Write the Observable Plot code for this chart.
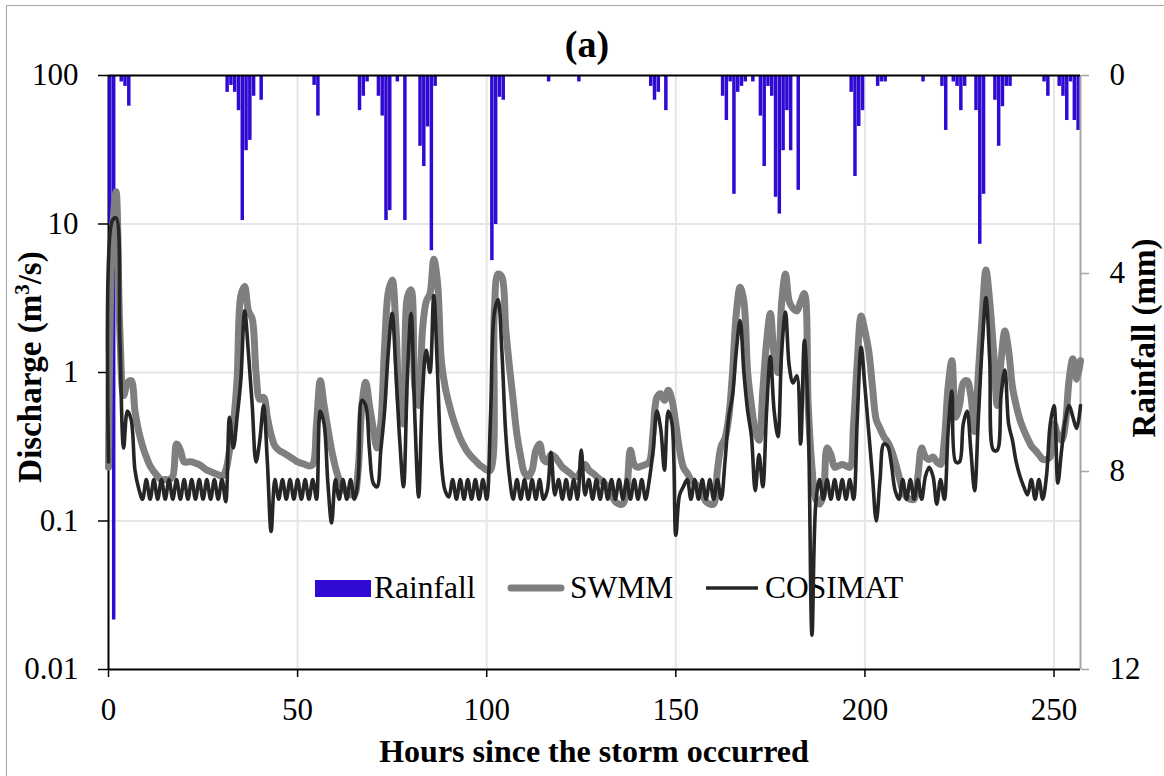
<!DOCTYPE html>
<html>
<head>
<meta charset="utf-8">
<script src="https://cdn.jsdelivr.net/npm/d3@7"></script>
<script src="https://cdn.jsdelivr.net/npm/@observablehq/plot@0.6"></script>
<style>
  html, body { margin: 0; padding: 0; background: #fff; }
  #wrap { position: relative; width: 1164px; height: 776px; overflow: hidden; background: #fff; }
  .layer { position: absolute; left: 0; top: 0; }
  #frame { position: absolute; left: 6px; top: 5px; width: 1170px; height: 800px; border-left: 1.5px solid #a6a6a6; border-top: 1.5px solid #a6a6a6; }
  svg text { font-family: "Liberation Serif", "Times New Roman", serif; }
</style>
</head>
<body>
<div id="wrap">
  <div id="frame"></div>
  <div id="gridLayer" class="layer"></div>
  <div id="rainLayer" class="layer"></div>
  <svg id="legend" class="layer" width="1164" height="776">
    <rect x="315" y="580" width="56" height="17" fill="#300ad2"></rect>
    <text x="374" y="598" font-size="31.5" fill="#000">Rainfall</text>
    <line x1="511" x2="561" y1="588" y2="588" stroke="#7f7f7f" stroke-width="7" stroke-linecap="round"></line>
    <text x="570" y="598" font-size="31.5" fill="#000">SWMM</text>
    <line x1="706" x2="758" y1="588" y2="588" stroke="#262626" stroke-width="3.6"></line>
    <text x="765" y="598" font-size="31.5" fill="#000">COSIMAT</text>
  </svg>
  <div id="lineLayer" class="layer"></div>
  <svg id="labels" class="layer" width="1164" height="776">
    <text x="587" y="57" text-anchor="middle" font-size="38" font-weight="bold">(a)</text>
    <text transform="translate(41,367) rotate(-90)" text-anchor="middle" font-size="33" font-weight="bold">Discharge (m<tspan dy="-12" font-size="21">3</tspan><tspan dy="12">/s)</tspan></text>
    <text transform="translate(1155,338) rotate(-90)" text-anchor="middle" font-size="33" font-weight="bold">Rainfall (mm)</text>
    <text x="594" y="762" text-anchor="middle" font-size="32" font-weight="bold">Hours since the storm occurred</text>
  </svg>
</div>
<script>
// ---------------- data ----------------
const hours = d3.range(0, 258);

const swmm = [
  0.23, 8, 16.5, 1.9, 0.7, 0.85, 0.88, 0.55, 0.4, 0.32,
  0.27, 0.235, 0.215, 0.2, 0.19, 0.19, 0.19, 0.2, 0.33, 0.3,
  0.25, 0.25, 0.25, 0.245, 0.24, 0.23, 0.22, 0.215, 0.21, 0.205,
  0.2, 0.22, 0.3, 0.45, 0.9, 3.3, 3.8, 2.6, 2.3, 1.0,
  0.66, 0.68, 0.5, 0.38, 0.32, 0.3, 0.29, 0.28, 0.27, 0.26,
  0.25, 0.245, 0.24, 0.235, 0.24, 0.45, 0.88, 0.6, 0.42, 0.3,
  0.23, 0.19, 0.17, 0.155, 0.15, 0.15, 0.22, 0.6, 0.86, 0.6,
  0.42, 0.31, 0.45, 1.5, 3.5, 4.2, 2.0, 0.6, 0.45, 3.2,
  3.6, 0.8, 0.6, 1.9, 3.0, 3.4, 5.8, 4.0, 1.2, 0.8,
  0.62, 0.5, 0.42, 0.36, 0.32, 0.29, 0.27, 0.255, 0.24, 0.23,
  0.22, 0.22, 2.5, 4.6, 4.4, 2.0, 1.1, 0.65, 0.38, 0.27,
  0.21, 0.2, 0.22, 0.3, 0.33, 0.26, 0.25, 0.28, 0.27, 0.25,
  0.23, 0.22, 0.21, 0.2, 0.2, 0.22, 0.24, 0.22, 0.21, 0.2,
  0.19, 0.18, 0.17, 0.15, 0.135, 0.13, 0.13, 0.16, 0.3, 0.24,
  0.23, 0.235, 0.24, 0.25, 0.4, 0.68, 0.72, 0.65, 0.76, 0.65,
  0.45, 0.3, 0.23, 0.21, 0.19, 0.18, 0.165, 0.15, 0.135, 0.13,
  0.13, 0.22, 0.32, 0.36, 0.5, 1.0, 2.5, 3.75, 3.0, 1.0,
  0.6, 0.41, 0.35, 0.75, 1.6, 2.5, 1.3, 1.0, 3.0, 4.6,
  3.0, 2.7, 2.6, 3.0, 3.4, 0.6, 0.23, 0.14, 0.13, 0.15,
  0.31, 0.28, 0.23, 0.235, 0.24, 0.235, 0.23, 0.45, 1.2, 2.4,
  1.9, 1.4, 0.8, 0.48, 0.42, 0.37, 0.34, 0.3, 0.25, 0.2,
  0.16, 0.145, 0.14, 0.14, 0.2, 0.31, 0.27, 0.26, 0.27, 0.25,
  0.24, 0.35, 0.8, 1.2, 0.5, 0.6, 0.85, 0.88, 0.7, 0.4,
  1.0, 2.4, 4.9, 3.0, 1.41, 0.6, 1.2, 1.9, 1.4, 0.8,
  0.6, 0.48, 0.41, 0.36, 0.32, 0.3, 0.28, 0.26, 0.26, 0.27,
  0.45, 0.38, 0.35, 0.45, 0.9, 1.24, 0.9, 1.2
];

const cosimat = [
  0.25, 10.5, 11, 1.7, 0.31, 0.55, 0.48, 0.22, 0.165, 0.14,
  0.19, 0.14, 0.19, 0.14, 0.19, 0.14, 0.19, 0.14, 0.19, 0.14,
  0.19, 0.14, 0.19, 0.14, 0.19, 0.14, 0.19, 0.14, 0.19, 0.14,
  0.19, 0.135, 0.5, 0.31, 0.5, 0.9, 2.6, 1.35, 0.6, 0.25,
  0.35, 0.6, 0.25, 0.085, 0.19, 0.14, 0.19, 0.14, 0.19, 0.14,
  0.19, 0.14, 0.19, 0.14, 0.19, 0.14, 0.55, 0.45, 0.18, 0.097,
  0.19, 0.14, 0.19, 0.14, 0.19, 0.14, 0.19, 0.65, 0.6, 0.3,
  0.18, 0.17, 0.3, 0.55, 1.4, 2.5, 1.0, 0.35, 0.17, 0.9,
  2.5, 0.5, 0.145, 0.7, 1.41, 1.0, 3.3, 1.0, 0.25, 0.16,
  0.145, 0.19, 0.14, 0.19, 0.14, 0.19, 0.14, 0.19, 0.14, 0.19,
  0.14, 0.5, 2.5, 3.1, 1.4, 0.4, 0.2, 0.14, 0.19, 0.14,
  0.19, 0.14, 0.19, 0.14, 0.19, 0.14, 0.16, 0.29, 0.15, 0.19,
  0.14, 0.19, 0.14, 0.19, 0.14, 0.3, 0.15, 0.19, 0.14, 0.19,
  0.14, 0.19, 0.14, 0.19, 0.14, 0.19, 0.14, 0.19, 0.14, 0.19,
  0.14, 0.19, 0.14, 0.19, 0.3, 0.55, 0.42, 0.22, 0.55, 0.45,
  0.08, 0.15, 0.17, 0.19, 0.14, 0.19, 0.14, 0.19, 0.14, 0.19,
  0.14, 0.19, 0.14, 0.25, 0.5, 0.7, 1.4, 2.24, 1.0, 0.55,
  0.37, 0.16, 0.28, 0.17, 0.55, 1.28, 0.55, 0.37, 1.4, 2.55,
  1.1, 0.85, 0.95, 0.33, 1.65, 0.5, 0.017, 0.13, 0.19, 0.14,
  0.19, 0.14, 0.19, 0.14, 0.19, 0.14, 0.19, 0.14, 0.5, 1.48,
  0.8, 0.4, 0.2, 0.1, 0.19, 0.33, 0.32, 0.24, 0.16, 0.14,
  0.19, 0.14, 0.19, 0.14, 0.19, 0.14, 0.2, 0.23, 0.2, 0.13,
  0.19, 0.14, 0.4, 0.75, 0.25, 0.25, 0.45, 0.55, 0.3, 0.16,
  0.5, 1.5, 3.2, 1.2, 0.3, 0.3, 0.7, 1.04, 0.45, 0.35,
  0.25, 0.2, 0.17, 0.15, 0.19, 0.14, 0.19, 0.14, 0.2, 0.45,
  0.6, 0.18, 0.3, 0.48, 0.6, 0.5, 0.42, 0.6
];

const rainHour = [
  0, 1, 3, 4, 5,
  31, 32, 33, 34, 35, 36, 37, 38, 40,
  54, 55,
  66, 67, 68,
  71, 72, 73, 74, 76, 78, 82, 83, 84, 85, 86,
  101, 102, 103, 104,
  116, 124,
  143, 144, 145, 147,
  162, 163, 164, 165, 166, 167, 168, 170,
  172, 173, 174, 175, 176, 177, 178, 179, 180, 182,
  196, 197, 198, 199,
  203, 204, 205,
  215,
  220, 221,
  223, 224, 225, 226,
  229, 230, 231,
  234, 235, 236, 237, 238,
  247, 248,
  251, 252, 253, 254, 255, 256
];
const rainDepth = [
  3.0, 11.0, 0.13, 0.22, 0.62,
  0.34, 0.2, 0.34, 0.71, 2.93, 1.52, 1.31, 0.42, 0.5,
  0.2, 0.82,
  0.71, 0.42, 0.13,
  0.42, 0.82, 2.93, 2.73, 0.13, 2.93, 1.43, 1.84, 1.04, 3.54, 0.22,
  3.74, 3.01, 0.44, 0.5,
  0.13, 0.13,
  0.22, 0.5, 0.34, 0.71,
  0.42, 0.91, 0.13, 2.4, 0.34, 0.22, 0.13, 0.13,
  0.82, 1.84, 0.22, 0.42, 2.46, 2.8, 1.52, 0.71, 1.52, 2.32,
  0.34, 2.04, 1.03, 0.71,
  0.22, 0.13, 0.13,
  0.13,
  0.22, 1.11,
  0.13, 0.22, 0.71, 0.22,
  0.71, 3.41, 2.4,
  0.5, 1.43, 0.63, 0.22, 0.22,
  0.13, 0.42,
  0.22, 0.42, 0.91, 0.13, 0.91, 1.11
];

const hourTicks = [0, 50, 100, 150, 200, 250];
const flowTicks = [0.01, 0.1, 1, 10, 100];
const rainTicks = [0, 4, 8, 12];

// ---------------- tables ----------------
const flow = hours.map((h, i) => ({h, swmm: swmm[i], cosimat: cosimat[i]}));
const rain = rainHour.map((h, i) => ({start: h, end: h + 1, top: 0, depth: rainDepth[i]}));

const W = 1164, H = 776;
const FONT = "'Liberation Serif', 'Times New Roman', serif";
const base = {
  width: W, height: H,
  marginLeft: 108, marginRight: 84, marginTop: 75, marginBottom: 107,
  style: {background: "transparent", fontFamily: FONT, color: "black", overflow: "visible"}
};
const xDomain = [0, 257];

const gridPlot = Plot.plot({
  ...base,
  x: {domain: xDomain},
  y: {type: "log", domain: [0.01, 100]},
  marks: [
    Plot.gridY(flowTicks.slice(1, -1), {stroke: "#e6e6e6", strokeOpacity: 1, strokeWidth: 2}),
    Plot.gridX(hourTicks.slice(1), {stroke: "#e6e6e6", strokeOpacity: 1, strokeWidth: 2}),
    Plot.axisX({ticks: hourTicks, tickSize: 8, tickPadding: 20, fontSize: 31, label: null, tickFormat: d => String(d), strokeWidth: 1.5}),
    Plot.axisY({ticks: flowTicks, tickSize: 10, tickPadding: 20, fontSize: 31, label: null, tickFormat: d => String(d), strokeWidth: 1.5}),
    Plot.ruleX([0], {stroke: "black", strokeWidth: 2}),
    Plot.ruleY([0.01], {stroke: "black", strokeWidth: 2})
  ]
});

const rainPlot = Plot.plot({
  ...base,
  x: {domain: xDomain, axis: null},
  y: {domain: [0, 12], reverse: true},
  marks: [
    Plot.rect(rain, {x1: "start", x2: "end", y1: "top", y2: "depth", fill: "#300ad2", insetLeft: 0.15, insetRight: 0.15}),
    Plot.axisY({anchor: "right", ticks: rainTicks, tickSize: 8, tickPadding: 21, fontSize: 31, label: null, stroke: "#a6a6a6", strokeWidth: 1.5, fill: "black"}),
    Plot.ruleX([257], {stroke: "#a6a6a6", strokeWidth: 2}),
    Plot.ruleY([0], {stroke: "black", strokeWidth: 2})
  ]
});

const linePlot = Plot.plot({
  ...base,
  x: {domain: xDomain, axis: null},
  y: {type: "log", domain: [0.01, 100], axis: null},
  marks: [
    Plot.line(flow, {x: "h", y: "swmm", stroke: "#7f7f7f", strokeWidth: 7, curve: "catmull-rom", strokeLinejoin: "round", strokeLinecap: "round"}),
    Plot.line(flow, {x: "h", y: "cosimat", stroke: "#262626", strokeWidth: 3.6, curve: "catmull-rom", strokeLinejoin: "round"})
  ]
});

document.getElementById("gridLayer").appendChild(gridPlot);
document.getElementById("rainLayer").appendChild(rainPlot);
document.getElementById("lineLayer").appendChild(linePlot);
</script>
</body>
</html>
